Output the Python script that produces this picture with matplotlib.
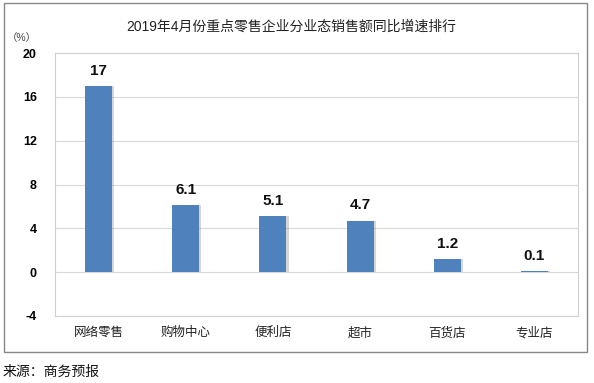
import matplotlib.pyplot as plt
import matplotlib.patches as patches
import numpy as np

plt.rcParams['font.family'] = ['Liberation Sans', 'Noto Sans CJK SC', 'DejaVu Sans']

categories = ["网络零售", "购物中心", "便利店", "超市", "百货店", "专业店"]
values = [17, 6.1, 5.1, 4.7, 1.2, 0.1]
labels = ["17", "6.1", "5.1", "4.7", "1.2", "0.1"]
yticks = [-4, 0, 4, 8, 12, 16, 20]

fig = plt.figure(figsize=(5.94, 3.83), dpi=100)
ax = fig.add_axes([55 / 594, 1 - 316 / 383, 523 / 594, 263 / 383])

x = np.arange(len(categories))
# soft shadow behind the bars
ax.bar(x + 0.025, values, width=0.31, color="#8a8a8a", alpha=0.35, zorder=2)
ax.bar(x, values, width=0.31, color="#4F81BD", zorder=3)

for xi, v, lab in zip(x, values, labels):
    ax.annotate(lab, (xi, v), xytext=(0, 6), textcoords="offset points",
                ha="center", va="bottom", fontsize=11, fontweight="bold", color="#111111")

ax.set_xlim(-0.5, len(categories) - 0.5)
ax.set_ylim(-4, 20)
ax.set_yticks(yticks)
ax.set_yticklabels([str(t) for t in yticks], fontsize=9, fontweight="bold")
ax.set_xticks(x)
ax.set_xticklabels(categories, fontsize=9, color="#222222")
ax.tick_params(length=0, pad=8)
ax.tick_params(axis="y", pad=13)
ax.grid(axis="y", color="#d9d9d9", linewidth=0.8, zorder=0)
for s in ax.spines.values():
    s.set_color("#d0d0d0")
    s.set_linewidth(0.8)

fig.text(291 / 594, 1 - 27 / 383, "2019年4月份重点零售企业分业态销售额同比增速排行",
         ha="center", va="center", fontsize=10, color="#222222")
fig.text(22 / 594, 1 - 38 / 383, "（%）", ha="center", va="center", fontsize=7.5, color="#444444")
fig.text(3 / 594, 1 - 372 / 383, "来源：商务预报", ha="left", va="center", fontsize=10, color="#111111")

fig.patches.append(patches.Rectangle((4 / 594, 1 - 352 / 383), 583 / 594, 349 / 383,
                                     transform=fig.transFigure, fill=False,
                                     edgecolor="#888888", linewidth=1))

fig.savefig("out.png", dpi=100)
